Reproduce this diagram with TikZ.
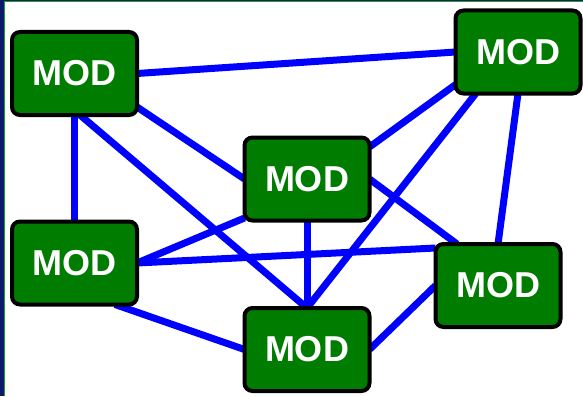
\documentclass[tikz,border=0pt]{standalone}
\usepackage{fontspec}
\setmainfont{Liberation Sans}
\usetikzlibrary{backgrounds}

\definecolor{modgreen}{RGB}{0,125,0}
\definecolor{linkblue}{RGB}{0,0,255}
\definecolor{framenavy}{RGB}{12,26,108}
\definecolor{framegreen}{RGB}{40,160,40}

\begin{document}
\begin{tikzpicture}[x = 1pt, y = -1pt,
    mod/.style = {draw = black, line width = 4pt, fill = modgreen, rounded corners = 8pt,
        minimum width = 125pt, minimum height = 83pt, inner sep = 0pt, outer sep = 0pt,
        text = white, font = \fontsize{36}{40}\selectfont\bfseries},
    link/.style = {draw = linkblue, line width = 7pt}]
    \useasboundingbox (0,0) rectangle (583,396);

    % draw modules
    \node[mod] (A) at (74.5,73.5) {MOD};
    \node[mod] (B) at (518,52) {MOD};
    \node[mod] (C) at (307,179) {MOD};
    \node[mod] (D) at (74.5,263) {MOD};
    \node[mod] (E) at (498,285.5) {MOD};
    \node[mod] (F) at (307,349.5) {MOD};

    \begin{scope}[on background layer]
    % white page and frame
    \fill[white] (0,0) rectangle (583,396);
    \fill[framenavy] (0,0) rectangle (4,396);
    \fill[framenavy] (0,0) rectangle (583,1);
    \draw[framegreen, line width = 1.2pt] (4.6,396) -- (4.6,1.6) -- (583,1.6);

    % draw links
    \draw[link] (A.east) -- (B.west);
    \draw[link] (A.south) -- (D.north);
    \draw[link] ([yshift=-33.5pt]A.east) -- (C.west);
    \draw[link] ([xshift=5.5pt]A.south) -- (F.north);
    \draw[link] ([yshift=-32.6pt]B.west) -- ([yshift=32pt]C.east);
    \draw[link] ([xshift=-42.2pt]B.south) -- (F.north);
    \draw[link] (B.south) -- (E.north);
    \draw[link] ([yshift=-39pt]C.west) -- (D.east);
    \draw[link] (C.south) -- (F.north);
    \draw[link] (C.east) -- ([xshift=-41pt]E.north);
    \draw[link] (D.east) -- ([yshift=37.5pt]E.west);
    \draw[link] ([xshift=40.5pt]D.south) -- (F.west);
    \draw[link] (F.east) -- (E.west);
    \end{scope}

\end{tikzpicture}
\end{document}
